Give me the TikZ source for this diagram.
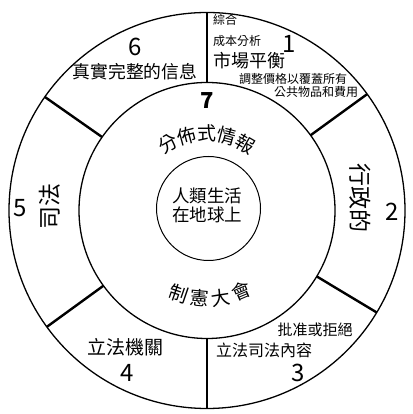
\documentclass[tikz,border=0pt]{standalone}
\usepackage{fontspec}
\setmainfont{Noto Sans CJK TC}
\usetikzlibrary{calc}
\begin{document}
\begin{tikzpicture}[x=1pt,y=1pt,
  ring/.style={line width=1.3pt},
  divider/.style={line width=2.4pt},
  num/.style={font=\fontsize{24}{24}\selectfont, inner sep=0pt},
  lbl/.style={font=\fontsize{#1}{#1}\selectfont, inner sep=0pt},
  arcch/.style={font=\fontsize{19}{19}\selectfont, inner sep=0pt},
]
\useasboundingbox (0,0) rectangle (412,414);
\coordinate (C) at (207,203.5);
\coordinate (Ci) at (208.5,205.5);
\draw[ring] (C) circle (198);
\draw[ring] (C) circle (128);
\draw[line width=1pt] (Ci) circle (52);
\foreach \a in {90,36,-31,270,216,145}{
  \coordinate (in\a) at ($(C)+(\a:128)$);
  \coordinate (out\a) at ($(C)+(\a:198)$);
  \draw[divider] (in\a) -- (out\a);
}
% center
\node[lbl=17.5] (c1) at (207,218) {人類生活};
\node[lbl=17.5] (c2) at (207,199) {在地球上};
% 7
\node[num, font=\fontsize{22}{22}\selectfont\bfseries] (n7) at (207,313) {7};
\foreach \ch/\a [count=\i] in {分/120,佈/105,式/90,情/75,報/60}
  \node[arcch, rotate=\a-90] (t\i) at ($(C)+(\a:77)$) {\ch};
\foreach \ch/\a [count=\i] in {制/251,憲/265,大/279,會/293}
  \node[arcch, rotate=\a-270] (b\i) at ($(C)+(\a:88)$) {\ch};
% sector 1
\node[lbl=12, anchor=west] (s1a) at (213,394) {綜合};
\node[lbl=12, anchor=west] (s1b) at (213,373) {成本分析};
\node[lbl=18, anchor=west] (s1c) at (213,353) {市場平衡};
\node[num] (n1) at (289,370) {1};
\node[lbl=12] (s1d) at (293,335) {調整價格以覆蓋所有};
\node[lbl=12] (s1e) at (316,322) {公共物品和費用};
% sector 2
\node[lbl=23, rotate=-90] (s2) at (360,216) {行政的};
\node[num] (n2) at (392,202) {2};
% sector 3
\node[lbl=15] (s3a) at (315,84) {批准或拒絕};
\node[lbl=16] (s3b) at (264,64) {立法司法內容};
\node[num] (n3) at (298,41) {3};
% sector 4
\node[lbl=19] (s4) at (125,67) {立法機關};
\node[num] (n4) at (127,41) {4};
% sector 5
\node[lbl=23, rotate=90] (s5) at (50,207) {司法};
\node[num] (n5) at (20,206) {5};
% sector 6
\node[num] (n6) at (135,367) {6};
\node[lbl=17.8] (s6) at (135,342) {真實完整的信息};
\end{tikzpicture}
\end{document}
